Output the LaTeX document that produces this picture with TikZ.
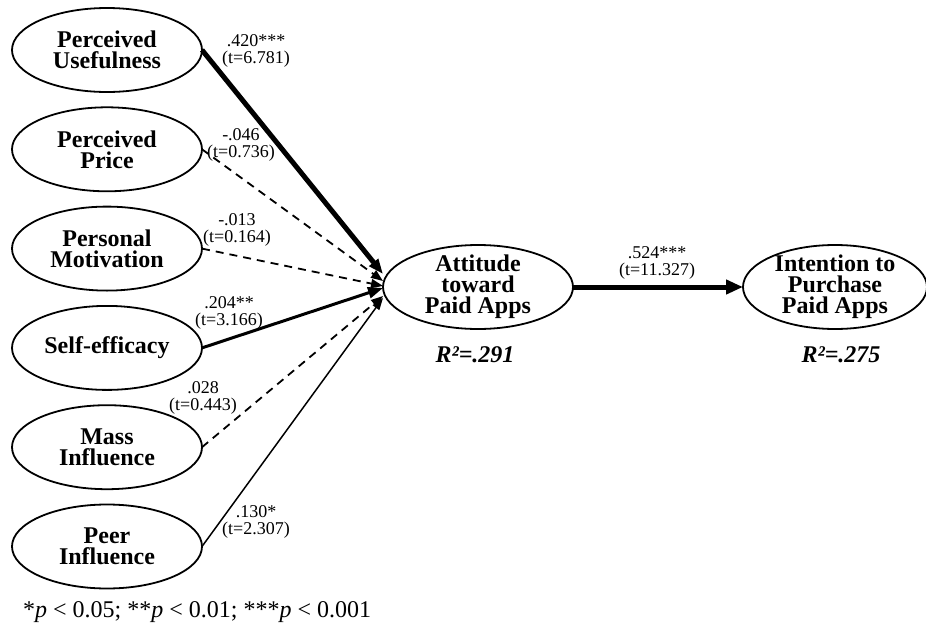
\documentclass[tikz,border=0pt]{standalone}
\usepackage{fontspec}
\setmainfont{Liberation Serif}
\usetikzlibrary{arrows.meta,positioning,shapes.geometric}

\begin{document}
\begin{tikzpicture}[x=1pt,y=-1pt,node distance=15.3pt and 170pt,
    latent/.style={draw,ellipse,line width=1.8pt,minimum width=190pt,minimum height=84pt,
                   inner xsep=0pt,inner ysep=-8pt,outer sep=0pt,align=center,
                   font=\bfseries\fontsize{24}{21}\selectfont},
    coef/.style={align=center,inner sep=0pt,font=\fontsize{18}{16.5}\selectfont},
    rsq/.style={inner sep=0pt,font=\bfseries\itshape\fontsize{24}{28}\selectfont},
    sig/.style={-{Triangle[length=15pt,width=11pt]},line width=#1},
    nsig/.style={-{Triangle[length=12pt,width=9pt]},line width=1.8pt,dash pattern=on 8pt off 6pt}]
  \useasboundingbox (0,0) rectangle (926,629);
  % exogenous constructs
  \node[latent] (pu) at (107,50) {Perceived\\Usefulness};
  \node[latent,below=of pu] (pp) {Perceived\\Price};
  \node[latent,below=of pp] (pm) {Personal\\Motivation};
  \node[latent,below=of pm] (se) {Self-efficacy};
  \node[latent,below=of se] (mi) {Mass\\Influence};
  \node[latent,below=of mi] (pi) {Peer\\Influence};
  % endogenous constructs
  \node[latent] (att) at (478,287) {Attitude\\toward\\Paid Apps};
  \node[latent,minimum width=184pt,right=of att] (int) {Intention to\\Purchase\\Paid Apps};
  \node[rsq] (r2att) at (475,355) {R²=.291};
  \node[rsq] (r2int) at (841,355) {R²=.275};
  % paths
  \draw[sig=5pt] (pu.east) -- ([yshift=13pt]att.west);
  \draw[nsig] (pp.east) -- ([yshift=6pt]att.west);
  \draw[nsig] (pm.east) -- ([yshift=1pt]att.west);
  \draw[sig=3pt] (se.east) -- ([yshift=-1pt]att.west);
  \draw[nsig] (mi.east) -- ([yshift=-9pt]att.west);
  \draw[sig=1.5pt,-{Triangle[length=12pt,width=8pt]}] (pi.east) -- ([yshift=-11pt]att.west);
  \draw[sig=5pt,-{Triangle[length=17pt,width=14pt]}] (att) -- (int);
  % coefficients
  \node[coef] (cpu) at (256,51) {.420***\\(t=6.781)};
  \node[coef] (cpp) at (241,145) {-.046\\(t=0.736)};
  \node[coef] (cpm) at (237,230) {-.013\\(t=0.164)};
  \node[coef] (cse) at (229,313) {.204**\\(t=3.166)};
  \node[coef] (cmi) at (203,398) {.028\\(t=0.443)};
  \node[coef] (cpi) at (256,522) {.130*\\(t=2.307)};
  \node[coef] (cai) at (657,263) {.524***\\(t=11.327)};
  \node[anchor=west,inner sep=0pt,font=\fontsize{24}{28}\selectfont] (note) at (23,612)
       {*\textit{p} < 0.05; **\textit{p} < 0.01; ***\textit{p} < 0.001};
\end{tikzpicture}
\end{document}
